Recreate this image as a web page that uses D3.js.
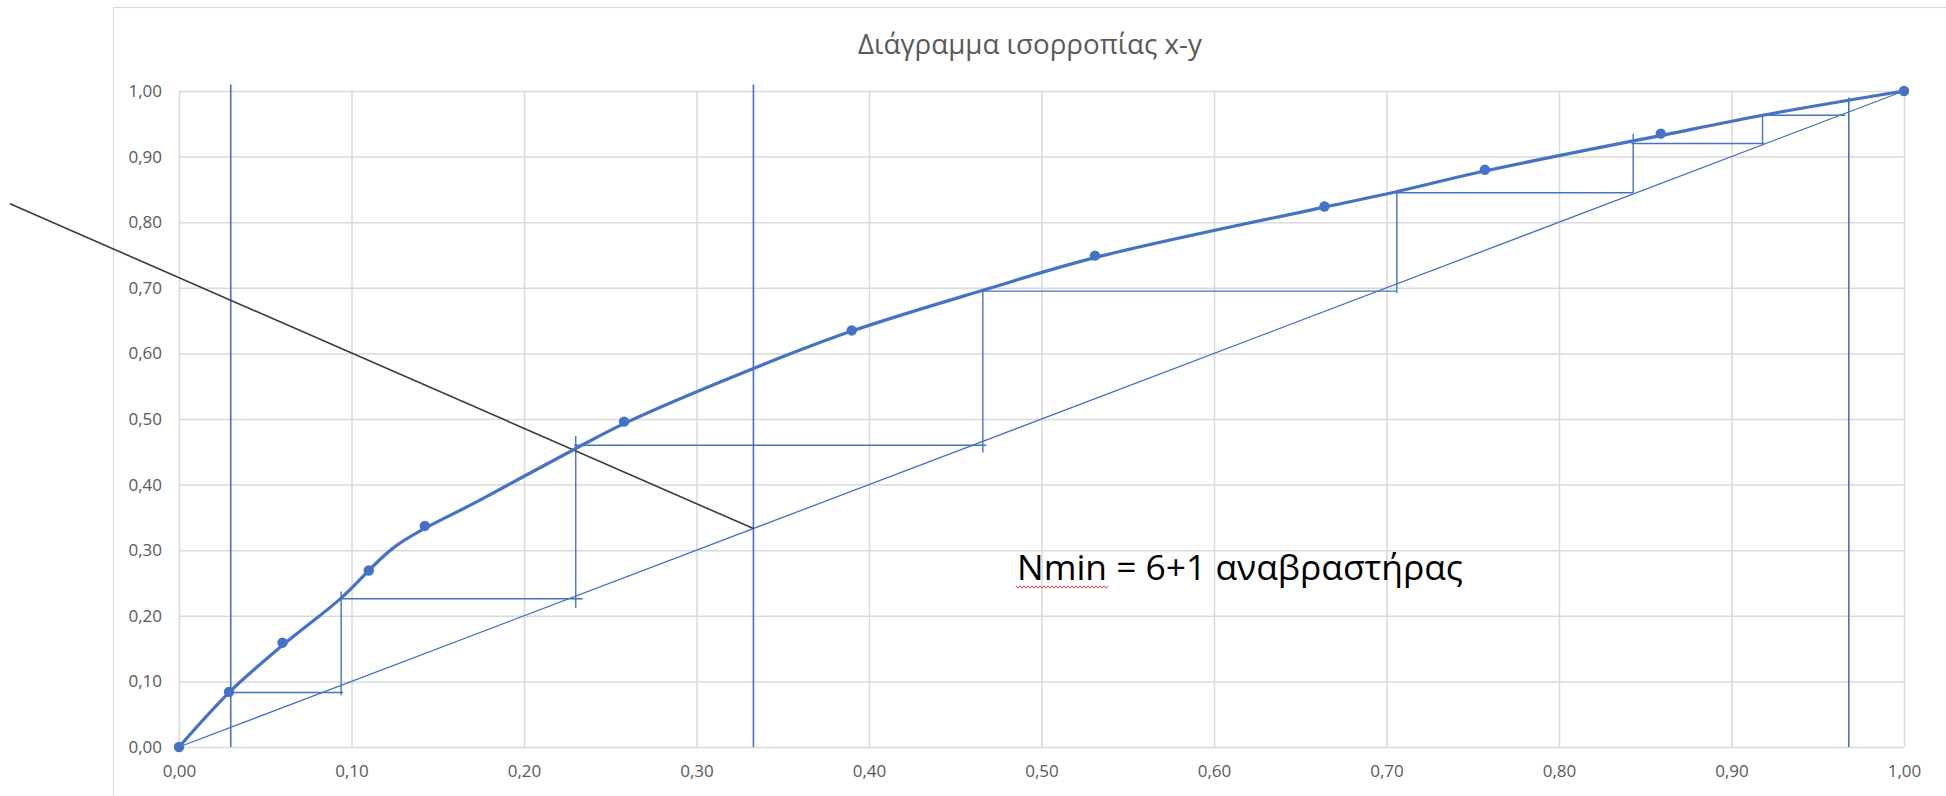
<!DOCTYPE html>
<html>
<head>
<meta charset="utf-8">
<script src="https://cdn.jsdelivr.net/npm/d3@7"></script>
<style>
  html, body { margin: 0; padding: 0; background: #ffffff; }
  svg { display: block; }
  text { font-family: "Open Sans", "Noto Sans", sans-serif; }
</style>
</head>
<body>
<svg id="chart" width="1946" height="796"></svg>
<script>
// ---------- data ----------
const titleText = "Διάγραμμα ισορροπίας x-y";
const noteText = "Nmin = 6+1 αναβραστήρας";
const xTicks = [0, 0.1, 0.2, 0.3, 0.4, 0.5, 0.6, 0.7, 0.8, 0.9, 1.0];
const yTicks = [0, 0.1, 0.2, 0.3, 0.4, 0.5, 0.6, 0.7, 0.8, 0.9, 1.0];

// equilibrium data points (markers)
const eqX = [0, 0.029, 0.060, 0.110, 0.1425, 0.258, 0.390, 0.531, 0.664, 0.757, 0.859, 1.0];
const eqY = [0, 0.084, 0.159, 0.269, 0.337, 0.496, 0.635, 0.749, 0.824, 0.880, 0.935, 1.0];

// smoothed equilibrium curve
const curveX = [0, 0.029, 0.060, 0.094, 0.126, 0.175, 0.230, 0.258, 0.333, 0.390, 0.467, 0.531, 0.664, 0.705, 0.757, 0.843, 0.859, 0.918, 1.0];
const curveY = [0, 0.083, 0.155, 0.227, 0.307, 0.377, 0.455, 0.493, 0.577, 0.634, 0.697, 0.746, 0.823, 0.846, 0.878, 0.924, 0.932, 0.963, 1.0];

// diagonal y = x
const diagX = [0, 1];
const diagY = [0, 1];

// operating (q) line
const qX = [-0.098, 0.333];
const qY = [0.828, 0.333];

// staircase: horizontal steps (y, from x, to x)
const stepHY  = [0.083, 0.226, 0.460, 0.695, 0.845, 0.920, 0.963];
const stepHX0 = [0.029, 0.093, 0.229, 0.466, 0.705, 0.842, 0.918];
const stepHX1 = [0.095, 0.234, 0.468, 0.706, 0.843, 0.919, 0.966];
// staircase: vertical steps (x, from y, to y)
const stepVX  = [0.094, 0.230, 0.466, 0.706, 0.843, 0.918];
const stepVY0 = [0.079, 0.212, 0.449, 0.692, 0.845, 0.917];
const stepVY1 = [0.237, 0.474, 0.697, 0.848, 0.935, 0.965];

// composition markers (xW, zF, xD): vertical lines
const markX   = [0.030, 0.333, 0.968];
const markTop = [1.010, 1.010, 0.990];

// ---------- layout ----------
const W = 1946, H = 796;
const plot = { left: 179, right: 1904, top: 91, bottom: 747 };
const chartArea = { left: 113, top: 7, right: 1947, bottom: 820 };
const blue = "#4472C4";
const grid = "#d9d9d9";
const labelColor = "#595959";

const svg = d3.select("#chart");

const x = d3.scaleLinear().domain([0, 1]).range([plot.left, plot.right]);
const y = d3.scaleLinear().domain([0, 1]).range([plot.bottom, plot.top]);

const loc = d3.formatLocale({ decimal: ",", thousands: ".", grouping: [3], currency: ["", "€"] });
const fmt = loc.format(".2f");

// chart area border
svg.append("rect")
  .attr("x", chartArea.left + 0.5).attr("y", chartArea.top + 0.5)
  .attr("width", chartArea.right - chartArea.left)
  .attr("height", chartArea.bottom - chartArea.top)
  .attr("fill", "#ffffff").attr("stroke", grid).attr("stroke-width", 1.2);

// gridlines via axes
const gx = svg.append("g")
  .attr("transform", `translate(0,${plot.bottom})`)
  .call(d3.axisBottom(x).tickValues(xTicks).tickSize(-(plot.bottom - plot.top)).tickFormat(fmt).tickPadding(18));
const gy = svg.append("g")
  .attr("transform", `translate(${plot.left},0)`)
  .call(d3.axisLeft(y).tickValues(yTicks).tickSize(-(plot.right - plot.left)).tickFormat(fmt).tickPadding(17));

[gx, gy].forEach(g => {
  g.select(".domain").remove();
  g.selectAll(".tick line").attr("stroke", grid).attr("stroke-width", 1.5);
  g.selectAll(".tick text")
    .attr("fill", labelColor)
    .style("font-size", "17px")
    .style("font-family", "'Open Sans', sans-serif");
});
gx.selectAll(".tick text").attr("dy", "0.71em");

// title
const title = svg.append("text")
  .attr("x", (chartArea.left + chartArea.right) / 2)
  .attr("y", 54)
  .attr("text-anchor", "middle")
  .attr("fill", labelColor)
  .style("font-size", "24px")
  .text(titleText);
{
  const w = title.node().getComputedTextLength();
  title.style("font-size", (24 * 344 / w) + "px");
}

const lineGen = d3.line().x(d => x(d[0])).y(d => y(d[1]));

// diagonal
svg.append("path")
  .datum(diagX.map((v, i) => [v, diagY[i]]))
  .attr("d", lineGen)
  .attr("fill", "none").attr("stroke", blue).attr("stroke-width", 1.3);

// vertical composition lines
svg.append("g").selectAll("line")
  .data(markX.map((v, i) => ({ x: v, top: markTop[i] })))
  .join("line")
  .attr("x1", d => x(d.x)).attr("x2", d => x(d.x))
  .attr("y1", y(0)).attr("y2", d => y(d.top))
  .attr("stroke", blue).attr("stroke-width", 1.6);

// staircase
const stepG = svg.append("g").attr("fill", "none").attr("stroke", blue).attr("stroke-width", 1.4);
stepG.selectAll("line.h")
  .data(stepHY.map((v, i) => ({ y: v, x0: stepHX0[i], x1: stepHX1[i] })))
  .join("line").attr("class", "h")
  .attr("x1", d => x(d.x0)).attr("x2", d => x(d.x1))
  .attr("y1", d => y(d.y)).attr("y2", d => y(d.y));
stepG.selectAll("line.v")
  .data(stepVX.map((v, i) => ({ x: v, y0: stepVY0[i], y1: stepVY1[i] })))
  .join("line").attr("class", "v")
  .attr("x1", d => x(d.x)).attr("x2", d => x(d.x))
  .attr("y1", d => y(d.y0)).attr("y2", d => y(d.y1));

// operating / q line
svg.append("path")
  .datum(qX.map((v, i) => [v, qY[i]]))
  .attr("d", lineGen)
  .attr("fill", "none").attr("stroke", "#3a3a3a").attr("stroke-width", 1.6);

// equilibrium curve
svg.append("path")
  .datum(curveX.map((v, i) => [v, curveY[i]]))
  .attr("d", d3.line().x(d => x(d[0])).y(d => y(d[1])).curve(d3.curveCatmullRom.alpha(0.5)))
  .attr("fill", "none").attr("stroke", blue).attr("stroke-width", 3.2)
  .attr("stroke-linejoin", "round");

// equilibrium markers
svg.append("g").selectAll("circle")
  .data(eqX.map((v, i) => [v, eqY[i]]))
  .join("circle")
  .attr("cx", d => x(d[0])).attr("cy", d => y(d[1]))
  .attr("r", 5.2).attr("fill", blue);

// annotation
const note = svg.append("text")
  .attr("x", 1017).attr("y", 580)
  .attr("fill", "#000000")
  .style("font-size", "30px")
  .style("font-family", "'Open Sans', sans-serif");
const nmin = note.append("tspan").text("Nmin");
note.append("tspan").text(noteText.slice(4));
{
  const w = note.node().getComputedTextLength();
  note.style("font-size", (30 * 446 / w) + "px");
}
// spell-check squiggle under "Nmin"
{
  const nb = nmin.node().getBBox();
  const x0 = nb.x - 1, x1 = nb.x + nb.width + 1, yy = 587;
  const pts = d3.range(x0, x1 + 0.1, 2).map((px, i) => [px, yy + (i % 2 ? 1.2 : -1.2)]);
  svg.append("path").attr("d", d3.line()(pts))
    .attr("fill", "none").attr("stroke", "#e04040").attr("stroke-width", 1);
}
</script>
</body>
</html>
